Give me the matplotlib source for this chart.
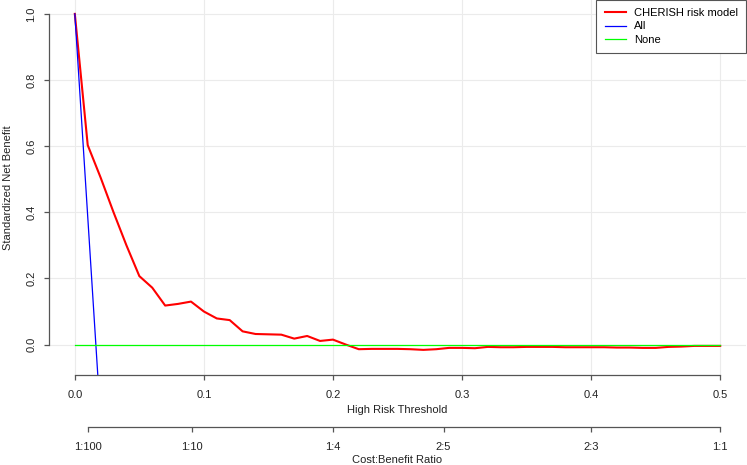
import matplotlib
matplotlib.use("Agg")
import matplotlib.pyplot as plt
import numpy as np

plt.rcParams["font.family"] = ["Liberation Sans", "DejaVu Sans"]

# thresholds on the x axis, one per 0.01
thresholds = np.linspace(0.0, 0.5, 51)
model_nb = [
    1.000, 0.603, 0.505, 0.400, 0.300, 0.207, 0.172, 0.118, 0.123, 0.130,
    0.100, 0.079, 0.074, 0.040, 0.032, 0.031, 0.030, 0.018, 0.026, 0.011,
    0.015, 0.000, -0.014, -0.013, -0.013, -0.013, -0.014, -0.016, -0.014, -0.010,
    -0.010, -0.011, -0.007, -0.008, -0.008, -0.007, -0.007, -0.007, -0.008, -0.008,
    -0.008, -0.008, -0.009, -0.009, -0.010, -0.010, -0.007, -0.006, -0.004, -0.004,
    -0.004,
]
all_x = [0.0, 0.01, 0.02]
all_nb = [1.0, 0.387, -0.227]
none_x = [0.0, 0.5]
none_nb = [0.0, 0.0]

x_ticks = [0.0, 0.1, 0.2, 0.3, 0.4, 0.5]
y_ticks = [0.0, 0.2, 0.4, 0.6, 0.8, 1.0]
ratio_pos = [1 / 101, 1 / 11, 1 / 5, 2 / 7, 2 / 5, 1 / 2]
ratio_labels = ["1:100", "1:10", "1:4", "2:5", "2:3", "1:1"]

W, H = 747, 465
AXC = "#555555"
TXT = "#222222"
fig = plt.figure(figsize=(W / 100, H / 100), dpi=100)
ax = fig.add_axes([49 / W, (H - 375) / H, 697 / W, 375 / H])
ax.set_xlim(-0.02, 0.52)
ax.set_ylim(-0.092, 1.042)

ax.plot(thresholds, model_nb, color="#FF0000", lw=1.5, label="CHERISH risk model")
ax.plot(all_x, all_nb, color="#0000FF", lw=0.9, label="All")
ax.plot(none_x, none_nb, color="#00FF00", lw=0.9, label="None")

ax.set_xticks(x_ticks)
ax.set_xticklabels(["0.0", "0.1", "0.2", "0.3", "0.4", "0.5"])
ax.set_yticks(y_ticks)
ax.set_yticklabels(["0.0", "0.2", "0.4", "0.6", "0.8", "1.0"])
for lab in ax.get_yticklabels():
    lab.set_rotation(90)
    lab.set_va("center")
ax.grid(color="#EBEBEB", lw=0.8)
ax.set_axisbelow(True)

for side in ("top", "right"):
    ax.spines[side].set_visible(False)
ax.spines["left"].set_bounds(0, 1)
ax.spines["bottom"].set_bounds(0, 0.5)
for side in ("left", "bottom"):
    ax.spines[side].set_color(AXC)
    ax.spines[side].set_linewidth(0.9)
ax.tick_params(direction="out", length=3.6, width=0.9, color=AXC,
               labelsize=8, labelcolor=TXT)
ax.tick_params(axis="x", pad=7)
ax.tick_params(axis="y", pad=5.5)
ax.set_xlabel("High Risk Threshold", fontsize=8, color=TXT, labelpad=4)
ax.set_ylabel("Standardized Net Benefit", fontsize=8, color=TXT, labelpad=9.5)

leg = ax.legend(loc="upper right", bbox_to_anchor=(1, 1), borderaxespad=0,
                fancybox=False, framealpha=1, edgecolor=AXC, fontsize=8,
                handlelength=1.9, handletextpad=0.7, labelspacing=0.28,
                borderpad=0.75)
leg.get_frame().set_linewidth(0.8)

# cost:benefit ratio axis
ax2 = fig.add_axes([49 / W, (H - 427) / H, 697 / W, 0.0001])
ax2.set_xlim(-0.02, 0.52)
ax2.patch.set_visible(False)
for side in ("top", "right", "left"):
    ax2.spines[side].set_visible(False)
ax2.spines["bottom"].set_bounds(ratio_pos[0], ratio_pos[-1])
ax2.spines["bottom"].set_color(AXC)
ax2.spines["bottom"].set_linewidth(0.9)
ax2.set_yticks([])
ax2.set_xticks(ratio_pos)
ax2.set_xticklabels(ratio_labels)
ax2.tick_params(direction="out", length=3.6, width=0.9, color=AXC,
                labelsize=8, labelcolor=TXT, pad=7)
ax2.set_xlabel("Cost:Benefit Ratio", fontsize=8, color=TXT, labelpad=2)

fig.savefig("out.png", dpi=100)
